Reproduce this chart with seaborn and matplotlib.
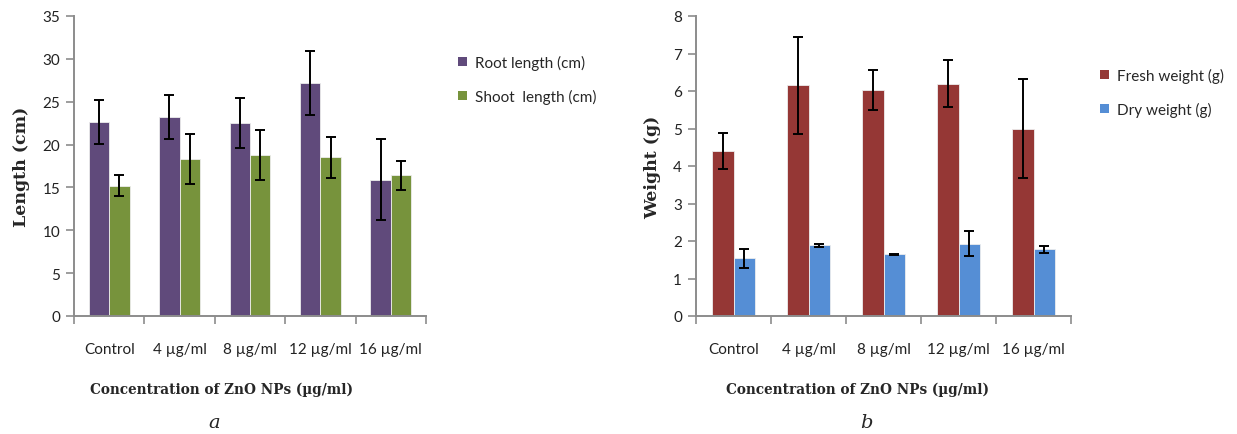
import numpy as np
import pandas as pd
import matplotlib
matplotlib.use("Agg")
import matplotlib.pyplot as plt
import seaborn as sns
from matplotlib.patches import Patch

# ---------------- data ----------------
categories = ["Control", "4 µg/ml", "8 µg/ml", "12 µg/ml", "16 µg/ml"]

root_len = [22.6, 23.2, 22.5, 27.2, 15.9]
root_err = [2.55, 2.6, 2.9, 3.7, 4.7]
shoot_len = [15.2, 18.3, 18.8, 18.5, 16.4]
shoot_err = [1.25, 2.9, 2.95, 2.4, 1.65]

fresh_w = [4.41, 6.15, 6.03, 6.19, 5.00]
fresh_err = [0.48, 1.29, 0.53, 0.63, 1.32]
dry_w = [1.54, 1.89, 1.65, 1.93, 1.78]
dry_err = [0.26, 0.04, 0.01, 0.33, 0.10]

series_a = ["Root length (cm)", "Shoot  length (cm)"]
series_b = ["Fresh weight (g)", "Dry weight (g)"]
colors_a = ["#604A7B", "#77933C"]
colors_b = ["#953735", "#558ED5"]

df_a = pd.DataFrame({
    "cat": categories * 2,
    "val": root_len + shoot_len,
    "err": root_err + shoot_err,
    "series": [series_a[0]] * 5 + [series_a[1]] * 5,
})
df_b = pd.DataFrame({
    "cat": categories * 2,
    "val": fresh_w + dry_w,
    "err": fresh_err + dry_err,
    "series": [series_b[0]] * 5 + [series_b[1]] * 5,
})

sns.set_style("white")
plt.rcParams["font.family"] = ["Lato", "DejaVu Sans"]

fig = plt.figure(figsize=(12.37, 4.35), dpi=100)
ax1 = fig.add_axes([74 / 1237, 1 - 317 / 435, (426 - 74) / 1237, 300 / 435])
ax2 = fig.add_axes([696 / 1237, 1 - 317 / 435, (1071 - 696) / 1237, 300 / 435])

axis_gray = "#8C8C8C"
tick_fs = 11
label_font = dict(family="DejaVu Serif", weight="bold")


def draw(ax, df, series, colors, ymax, ystep, ylabel, width):
    sns.barplot(data=df, x="cat", y="val", hue="series", hue_order=series,
                order=categories, palette=colors, width=width, errorbar=None,
                edgecolor="#EDEDED", linewidth=0.6, saturation=1, ax=ax)
    for cont, s in zip(ax.containers, series):
        errs = df[df["series"] == s]["err"].to_numpy()
        xs = [b.get_x() + b.get_width() / 2 for b in cont]
        hs = [b.get_height() for b in cont]
        ax.errorbar(xs, hs, yerr=errs, fmt="none", ecolor="black",
                    elinewidth=1.4, capsize=3.5, capthick=1.4, zorder=5)
    ax.set_xlim(-0.5, len(categories) - 0.5)
    ax.set_ylim(0, ymax)
    ax.set_yticks(np.arange(0, ymax + 0.001, ystep))
    ax.set_xticks(np.arange(-0.5, len(categories), 1.0), minor=True)
    ax.tick_params(axis="x", which="major", length=0, pad=19, labelsize=tick_fs, colors="#222222")
    ax.tick_params(axis="x", which="minor", length=6, width=1.2, color=axis_gray, direction="out", bottom=True)
    ax.tick_params(axis="y", which="major", length=6, width=1.2, color=axis_gray, direction="out",
                   left=True, labelsize=tick_fs, labelcolor="#222222", pad=4)
    for sp in ["top", "right"]:
        ax.spines[sp].set_visible(False)
    for sp in ["left", "bottom"]:
        ax.spines[sp].set_color(axis_gray)
        ax.spines[sp].set_linewidth(1.4)
    ax.set_xlabel("")
    ax.set_ylabel(ylabel, fontsize=12.5, labelpad=9, **label_font)
    ax.get_legend().remove()
    ax.grid(False)


draw(ax1, df_a, series_a, colors_a, 35, 5, "Length (cm)", 0.58)
draw(ax2, df_b, series_b, colors_b, 8, 1, "Weight (g)", 0.57)

h_a = [Patch(facecolor=c, edgecolor="none") for c in colors_a]
h_b = [Patch(facecolor=c, edgecolor="none") for c in colors_b]
fig.legend(h_a, series_a, loc="upper left", bbox_to_anchor=(444 / 1237, 1 - 42 / 435),
           frameon=False, fontsize=11, handlelength=0.6, handleheight=0.6,
           handletextpad=0.5, labelspacing=1.25)
fig.legend(h_b, series_b, loc="upper left", bbox_to_anchor=(1086 / 1237, 1 - 55 / 435),
           frameon=False, fontsize=11, handlelength=0.6, handleheight=0.6,
           handletextpad=0.5, labelspacing=1.25)

xl = "Concentration of ZnO NPs (µg/ml)"
fig.text(221 / 1237, 1 - 390 / 435, xl, ha="center", va="center", fontsize=9.8, **label_font)
fig.text(857 / 1237, 1 - 390 / 435, xl, ha="center", va="center", fontsize=9.8, **label_font)
fig.text(214 / 1237, 1 - 423 / 435, "a", ha="center", va="center", fontsize=14,
         family="DejaVu Serif", style="italic")
fig.text(866 / 1237, 1 - 423 / 435, "b", ha="center", va="center", fontsize=14,
         family="DejaVu Serif", style="italic")

fig.savefig("out.png", dpi=100, facecolor="white")
